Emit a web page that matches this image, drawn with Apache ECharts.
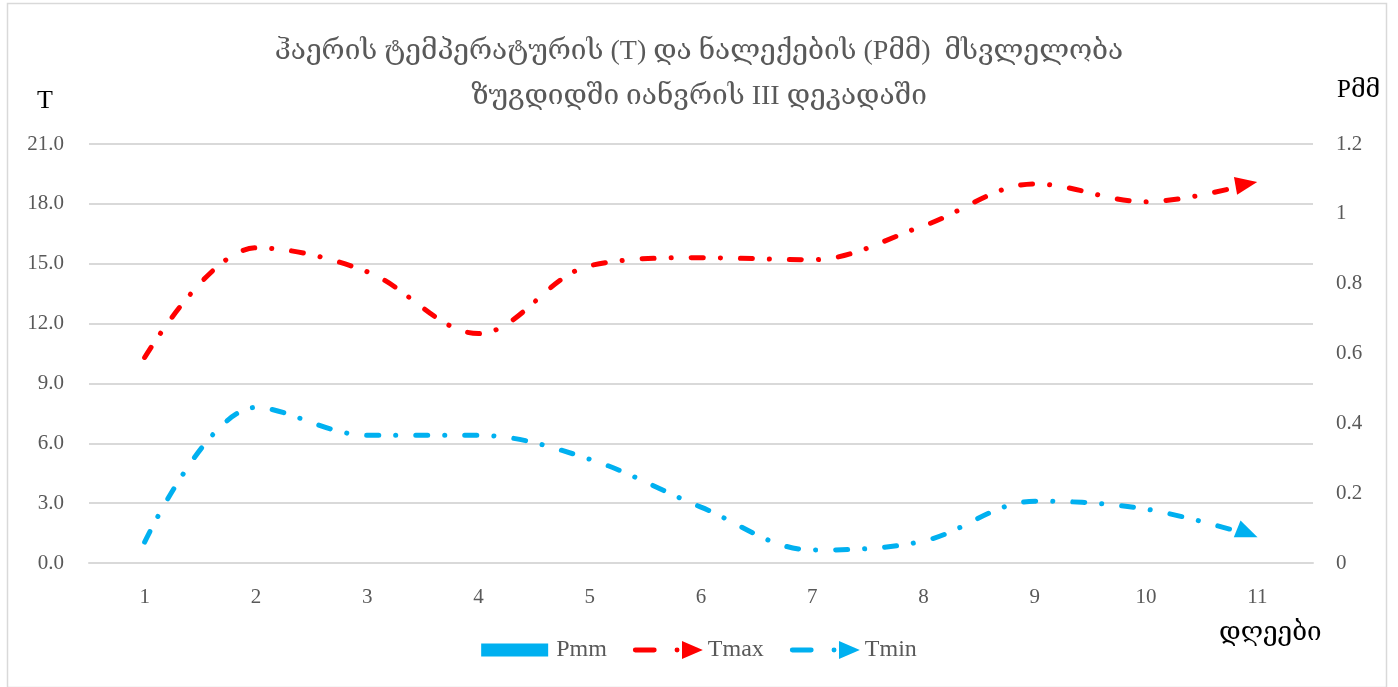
<!DOCTYPE html>
<html>
<head>
<meta charset="utf-8">
<script src="https://cdn.jsdelivr.net/npm/echarts@6/dist/echarts.min.js"></script>
<style>
    html, body { margin: 0; padding: 0; background: #fff; }
    #chart { width: 1398px; height: 687px; }
</style>
</head>
<body>
<div id="chart"></div>
<script>
// დღეები
var days = ['1', '2', '3', '4', '5', '6', '7', '8', '9', '10', '11']
// ნალექები, მმ
var pmm = [0, 0, 0, 0, 0, 0, 0, 0, 0, 0, 0]
// ტემპერატურა
var tmax = [10.3, 15.8, 14.6, 11.5, 14.9, 15.3, 15.2, 16.9, 19.0, 18.1, 19.1]
var tmin = [1.05, 7.8, 6.4, 6.4, 5.2, 2.8, 0.65, 1.1, 3.1, 2.7, 1.3]

var serif = "'Liberation Serif', 'DejaVu Serif', serif"
var gray = '#595959'
var dashDot = [12, 17, 0.1, 20]

// legend icons, 70x20 box (corner anchors keep the box from being stretched)
var anchors = 'M0,0L0,0M70,20L70,20'
var barIcon = 'path://' + anchors + 'M0,3.5L67,3.5L67,16.5L0,16.5Z'
var lineIcon = 'path://' + anchors +
    'M2,7.5L21,7.5A2.5,2.5 0 0 1 21,12.5L2,12.5A2.5,2.5 0 0 1 2,7.5Z' +
    'M41.5,10A2.5,2.5 0 1 1 46.5,10A2.5,2.5 0 1 1 41.5,10Z' +
    'M49,1L70,10L49,19Z'

// last point gets an arrow head, the rest no symbol
var withArrow = function(values, rotate, offset) {
    return values.map(function(v, i) {
        if (i === values.length - 1) {
            return {
                value: v,
                symbol: 'triangle',
                symbolSize: [18, 22],
                symbolRotate: rotate,
                symbolOffset: offset
            }
        }
        return v
    })
}

var option = {
    backgroundColor: '#fff',
    animation: false,
    textStyle: { fontFamily: serif },
    title: {
        text: 'ჰაერის ტემპერატურის (T) და ნალექების (Pმმ)  მსვლელობა\nზუგდიდში იანვრის III დეკადაში',
        left: 'center',
        top: 24,
        textStyle: {
            fontFamily: serif,
            fontSize: 28,
            fontWeight: 'normal',
            color: gray,
            lineHeight: 45
        }
    },
    legend: {
        bottom: 20,
        left: 'center',
        itemWidth: 70,
        itemHeight: 20,
        itemGap: 26,
        textStyle: { fontFamily: serif, fontSize: 24, color: gray },
        data: [
            { name: 'Pmm', icon: barIcon },
            { name: 'Tmax', icon: lineIcon },
            { name: 'Tmin', icon: lineIcon }
        ]
    },
    grid: { left: 89, right: 85, top: 144, bottom: 124 },
    xAxis: {
        type: 'category',
        data: days,
        boundaryGap: true,
        axisLine: { lineStyle: { color: '#d9d9d9', width: 2 } },
        axisTick: { show: false },
        axisLabel: { fontFamily: serif, fontSize: 21, color: gray, margin: 24 }
    },
    yAxis: [{
        type: 'value',
        min: 0,
        max: 21,
        interval: 3,
        axisLine: { show: false },
        axisTick: { show: false },
        splitLine: { lineStyle: { color: '#d9d9d9', width: 2 } },
        axisLabel: {
            fontFamily: serif, fontSize: 21, color: gray, margin: 25,
            formatter: function(v) { return v.toFixed(1) }
        }
    }, {
        type: 'value',
        min: 0,
        max: 1.2,
        interval: 0.2,
        axisLine: { show: false },
        axisTick: { show: false },
        splitLine: { show: false },
        axisLabel: {
            fontFamily: serif, fontSize: 21, color: gray, margin: 23,
            formatter: function(v) { return String(Math.round(v * 10) / 10) }
        }
    }],
    series: [{
        name: 'Pmm',
        type: 'bar',
        yAxisIndex: 1,
        itemStyle: { color: '#00B0F0' },
        data: pmm
    }, {
        name: 'Tmax',
        type: 'line',
        smooth: 0.35,
        symbol: 'none',
        showSymbol: true,
        color: '#FF0000',
        itemStyle: { color: '#FF0000' },
        lineStyle: { color: '#FF0000', width: 5, type: dashDot, cap: 'round' },
        data: withArrow(tmax, -80, [-11, 2])
    }, {
        name: 'Tmin',
        type: 'line',
        smooth: 0.35,
        symbol: 'none',
        showSymbol: true,
        color: '#00B0F0',
        itemStyle: { color: '#00B0F0' },
        lineStyle: { color: '#00B0F0', width: 5, type: dashDot, cap: 'round' },
        data: withArrow(tmin, -112, [-10, -4])
    }],
    graphic: [{
        type: 'rect',
        left: 5, top: 1,
        shape: { width: 1379, height: 684 },
        style: { fill: 'none', stroke: '#d9d9d9', lineWidth: 1.5 },
        silent: true
    }, {
        type: 'text',
        left: 37, top: 88,
        style: { text: 'T', font: "26px 'Liberation Serif', 'DejaVu Serif', serif", fill: '#000' }
    }, {
        type: 'text',
        left: 1337, top: 78,
        style: { text: 'Pმმ', font: "25px 'Liberation Serif', 'DejaVu Serif', serif", fill: '#000' }
    }, {
        type: 'text',
        left: 1219, top: 620,
        style: { text: 'დღეები', font: "26px 'Liberation Serif', 'DejaVu Serif', serif", fill: '#000' }
    }]
}

echarts.init(document.getElementById('chart')).setOption(option)
</script>
</body>
</html>
